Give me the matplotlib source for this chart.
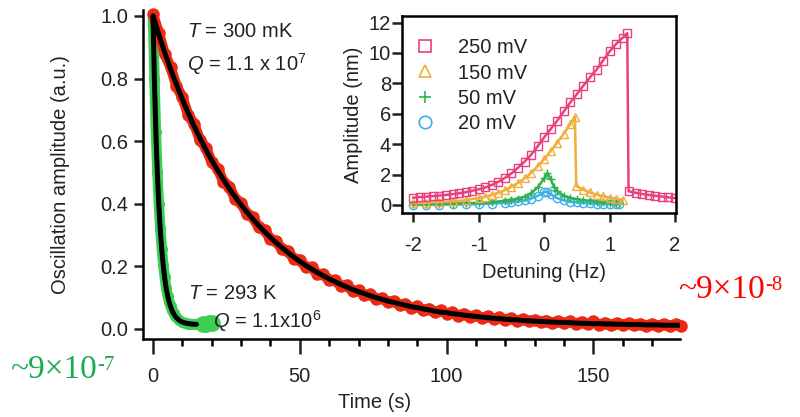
import numpy as np
import matplotlib
matplotlib.use("Agg")
import matplotlib.pyplot as plt
from matplotlib.lines import Line2D

plt.rcParams['font.family'] = ['Liberation Sans', 'DejaVu Sans']
plt.rcParams['mathtext.fontset'] = 'custom'
plt.rcParams['mathtext.rm'] = 'Liberation Sans'
plt.rcParams['mathtext.it'] = 'Liberation Sans:italic'
plt.rcParams['axes.unicode_minus'] = False
FS = 14.5

# ---------------- main decay data ----------------
red_time = np.arange(0, 181, 2)
red_amp = [1.005, 0.945, 0.878, 0.836, 0.776, 0.740, 0.684, 0.655, 0.604, 0.579,
           0.533, 0.512, 0.471, 0.455, 0.416, 0.402, 0.367, 0.357, 0.325, 0.316,
           0.287, 0.280, 0.254, 0.249, 0.224, 0.221, 0.198, 0.197, 0.175, 0.175,
           0.156, 0.156, 0.137, 0.139, 0.121, 0.124, 0.108, 0.111, 0.096, 0.099,
           0.085, 0.089, 0.076, 0.080, 0.067, 0.072, 0.060, 0.065, 0.054, 0.059,
           0.048, 0.054, 0.043, 0.049, 0.039, 0.044, 0.035, 0.041, 0.032, 0.037,
           0.029, 0.034, 0.026, 0.031, 0.024, 0.029, 0.022, 0.027, 0.020, 0.025,
           0.018, 0.024, 0.017, 0.023, 0.015, 0.024, 0.014, 0.020, 0.013, 0.019,
           0.013, 0.018, 0.012, 0.017, 0.011, 0.016, 0.011, 0.015, 0.010, 0.015,
           0.011]
red_fit = [1.000, 0.940, 0.883, 0.830, 0.781, 0.734, 0.690, 0.648, 0.610, 0.573,
           0.539, 0.507, 0.477, 0.448, 0.422, 0.397, 0.373, 0.351, 0.330, 0.311,
           0.292, 0.275, 0.259, 0.244, 0.229, 0.216, 0.203, 0.192, 0.180, 0.170,
           0.160, 0.151, 0.142, 0.134, 0.126, 0.119, 0.113, 0.106, 0.100, 0.095,
           0.089, 0.085, 0.080, 0.076, 0.071, 0.068, 0.064, 0.061, 0.057, 0.054,
           0.052, 0.049, 0.047, 0.044, 0.042, 0.040, 0.038, 0.036, 0.034, 0.033,
           0.031, 0.030, 0.029, 0.027, 0.026, 0.025, 0.024, 0.023, 0.022, 0.021,
           0.021, 0.020, 0.019, 0.018, 0.018, 0.017, 0.017, 0.016, 0.016, 0.015,
           0.015, 0.014, 0.014, 0.014, 0.013, 0.013, 0.013, 0.012, 0.012, 0.012,
           0.012]

green_time = [0, 0.5, 1, 1.5, 2, 2.5, 3, 3.5, 4, 4.5, 5, 5.5, 6, 6.5, 7, 7.5, 8,
              9, 10, 11, 12, 13, 14, 15, 16, 17, 18, 19, 20]
green_amp = [1.0, 0.80, 0.63, 0.50, 0.40, 0.32, 0.255, 0.205, 0.165, 0.13, 0.105,
             0.087, 0.072, 0.06, 0.05, 0.043, 0.037, 0.028, 0.022, 0.019, 0.017,
             0.016, 0.015, 0.016, 0.015, 0.017, 0.016, 0.018, 0.02]
green_fit_time = [0, 0.5, 1, 1.5, 2, 2.5, 3, 3.5, 4, 4.5, 5, 5.5, 6, 6.5, 7, 7.5,
                  8, 9, 10, 11, 12, 13, 14, 14.8]
green_fit = [1.0, 0.79, 0.625, 0.495, 0.395, 0.315, 0.252, 0.202, 0.162, 0.13,
             0.105, 0.086, 0.071, 0.059, 0.049, 0.042, 0.036, 0.027, 0.022, 0.019,
             0.017, 0.016, 0.015, 0.015]

# ---------------- inset data ----------------
det_250 = [-2.0, -1.9, -1.8, -1.7, -1.6, -1.5, -1.4, -1.3, -1.2, -1.1, -1.0, -0.9,
           -0.8, -0.7, -0.6, -0.5, -0.4, -0.3, -0.2, -0.1, 0.0, 0.1, 0.2, 0.3, 0.4,
           0.5, 0.6, 0.7, 0.8, 0.9, 1.0, 1.1, 1.2, 1.27, 1.29, 1.4, 1.5, 1.6, 1.7,
           1.8, 1.9, 2.0]
amp_250 = [0.48, 0.52, 0.55, 0.58, 0.62, 0.66, 0.71, 0.77, 0.84, 0.93, 1.03, 1.15,
           1.32, 1.52, 1.78, 2.08, 2.45, 2.85, 3.3, 3.85, 4.45, 5.0, 5.55, 6.15, 6.75,
           7.3, 7.85, 8.4, 8.9, 9.5, 10.1, 10.6, 11.0, 11.3, 0.9, 0.8, 0.72, 0.66, 0.6,
           0.55, 0.5, 0.45]
det_150 = [-2.0, -1.8, -1.6, -1.4, -1.2, -1.0, -0.9, -0.8, -0.7, -0.6, -0.5, -0.4,
           -0.3, -0.2, -0.1, 0.0, 0.1, 0.2, 0.3, 0.4, 0.47, 0.49, 0.6, 0.7, 0.8, 0.9,
           1.0, 1.1, 1.2]
amp_150 = [0.12, 0.15, 0.19, 0.24, 0.31, 0.46, 0.55, 0.66, 0.8, 0.97, 1.2, 1.45,
           1.75, 2.1, 2.55, 3.0, 3.55, 4.1, 4.7, 5.3, 5.8, 1.25, 1.0, 0.82, 0.68,
           0.57, 0.48, 0.41, 0.35]
det_50 = [-2.0, -1.8, -1.6, -1.4, -1.2, -1.0, -0.8, -0.6, -0.5, -0.4, -0.3, -0.2,
          -0.1, 0.0, 0.05, 0.1, 0.15, 0.2, 0.3, 0.4, 0.5, 0.6, 0.7, 0.8, 0.9, 1.0,
          1.1, 1.15]
amp_50 = [0.05, 0.06, 0.07, 0.09, 0.11, 0.14, 0.19, 0.27, 0.33, 0.42, 0.55, 0.78,
          1.15, 1.75, 2.1, 1.7, 1.2, 0.9, 0.62, 0.47, 0.38, 0.31, 0.26, 0.22, 0.18,
          0.15, 0.13, 0.12]
det_20 = [-2.0, -1.8, -1.6, -1.4, -1.2, -1.0, -0.8, -0.6, -0.5, -0.4, -0.3, -0.2,
          -0.1, 0.0, 0.05, 0.1, 0.2, 0.3, 0.4, 0.5, 0.6, 0.7, 0.8, 0.9, 1.0, 1.1, 1.15]
amp_20 = [0.0, 0.01, 0.02, 0.03, 0.04, 0.06, 0.09, 0.14, 0.18, 0.23, 0.3, 0.42,
          0.6, 0.85, 0.87, 0.7, 0.45, 0.3, 0.22, 0.17, 0.13, 0.1, 0.08, 0.06, 0.05,
          0.04, 0.04]
inset_labels = ['250 mV', '150 mV', '50 mV', '20 mV']

RED = '#ee2a14'
GREEN = '#3ccf55'
PINK = '#e8407f'
ORANGE = '#f0ae3a'
LGREEN = '#2eb34c'
CYAN = '#3cb2e4'
INK = '#222222'

fig = plt.figure(figsize=(8, 4.17), dpi=100)
ax = fig.add_axes([0.17875, 0.1871, 0.67125, 0.7897])

ax.plot(green_time, green_amp, '-', color=GREEN, lw=7.5, marker='o', ms=7,
        mec=GREEN, mfc=GREEN, solid_capstyle='round', zorder=2)
ax.plot(green_time[-4:], green_amp[-4:], 'o', color=GREEN, ms=11, zorder=2)
ax.plot(red_time, red_amp, '-', color=RED, lw=7.5, marker='o', ms=8, mec=RED,
        mfc=RED, zorder=3, clip_on=False, solid_capstyle='round')
ax.plot(red_time, red_fit, '-', color='black', lw=3.6, zorder=4,
        solid_capstyle='round')
ax.plot(green_fit_time, green_fit, '-', color='black', lw=3.6, zorder=4,
        solid_capstyle='round')

ax.set_xlim(-3.4, 179.5)
ax.set_ylim(-0.032, 1.02)
ax.set_xticks([0, 50, 100, 150])
ax.set_xticks(np.arange(10, 180, 10), minor=True)
ax.set_yticks([0.0, 0.2, 0.4, 0.6, 0.8, 1.0])
ax.set_yticklabels(['0.0', '0.2', '0.4', '0.6', '0.8', '1.0'])
for s in ['top', 'right']:
    ax.spines[s].set_visible(False)
for s in ['left', 'bottom']:
    ax.spines[s].set_linewidth(1.8)
ax.tick_params(axis='x', which='major', length=11, width=1.8, pad=9,
               labelsize=FS, colors=INK)
ax.tick_params(axis='x', which='minor', length=5, width=1.8)
ax.tick_params(axis='y', which='major', length=6.5, width=1.8, pad=4,
               labelsize=FS, colors=INK)
ax.set_xlabel('Time (s)', fontsize=FS, color=INK)
ax.set_ylabel('Oscillation amplitude (a.u.)', fontsize=FS, color=INK)
ax.xaxis.set_label_coords(0.432, -0.163)
ax.yaxis.set_label_coords(-0.136, 0.5)


def px(x, y):
    return (x / 800.0, 1 - y / 417.0)


fig.text(*px(187, 37), '$T$ = 300 mK', fontsize=FS, color=INK, va='baseline')
fig.text(*px(187, 71), '$Q$ = 1.1 x 10$^{7}$', fontsize=FS, color=INK, va='baseline')
fig.text(*px(188, 299), '$T$ = 293 K', fontsize=FS, color=INK, va='baseline')
fig.text(*px(213, 328), '$Q$ = 1.1x10$^{6}$', fontsize=FS, color=INK, va='baseline')

t1 = fig.text(*px(10, 378), '~9\u00d710', fontsize=24, color='#1aab4f',
              family='Liberation Serif', va='baseline')
t2 = fig.text(*px(678, 298), '~9\u00d710', fontsize=24, color='#ff0000',
              family='Liberation Serif', va='baseline')
ax.annotate('-7', xy=(1, 1), xycoords=t1, xytext=(0.5, -1), textcoords='offset points',
            ha='left', va='top', fontsize=15, color='#1aab4f', family='Liberation Serif',
            annotation_clip=False)
ax.annotate('-8', xy=(1, 1), xycoords=t2, xytext=(0.5, -1), textcoords='offset points',
            ha='left', va='top', fontsize=15, color='#ff0000', family='Liberation Serif',
            annotation_clip=False)

# ---------------- inset ----------------
ins = fig.add_axes([0.5025, 0.4892, 0.3425, 0.4724])
series = [(det_250, amp_250, PINK, 's'), (det_150, amp_150, ORANGE, '^'),
          (det_50, amp_50, LGREEN, '+'), (det_20, amp_20, CYAN, 'o')]
for (d, a, c, m) in series[::-1]:
    ins.plot(d, a, '-', color=c, lw=1.8, marker=m, ms=6, mfc='none', mec=c, mew=1.0)
handles = []
for (d, a, c, m), lab in zip(series, inset_labels):
    handles.append(Line2D([], [], linestyle='none', marker=m, ms=9, mfc='none',
                          mec=c, mew=1.2, label=lab))
ins.set_xlim(-2.173, 2.015)
ins.set_ylim(-0.53, 12.43)
ins.set_xticks([-2, -1, 0, 1, 2])
ins.set_yticks([0, 2, 4, 6, 8, 10, 12])
for s in ins.spines.values():
    s.set_linewidth(1.8)
ins.tick_params(axis='x', length=6.5, width=1.8, pad=10, labelsize=FS, colors=INK)
ins.tick_params(axis='y', length=7, width=1.8, pad=1, labelsize=FS, colors=INK)
ins.set_xlabel('Detuning (Hz)', fontsize=FS, color=INK)
ins.set_ylabel('Amplitude (nm)', fontsize=FS, color=INK)
ins.xaxis.set_label_coords(0.518, -0.254)
ins.yaxis.set_label_coords(-0.142, 0.5)
leg = ins.legend(handles=handles, loc='upper left', bbox_to_anchor=(0.047, 0.888),
                 frameon=False, fontsize=FS, borderpad=0, borderaxespad=0,
                 handlelength=1.0, handletextpad=1.14, labelspacing=0.32)
for txt in leg.get_texts():
    txt.set_color(INK)

fig.savefig('out.png', dpi=100)
